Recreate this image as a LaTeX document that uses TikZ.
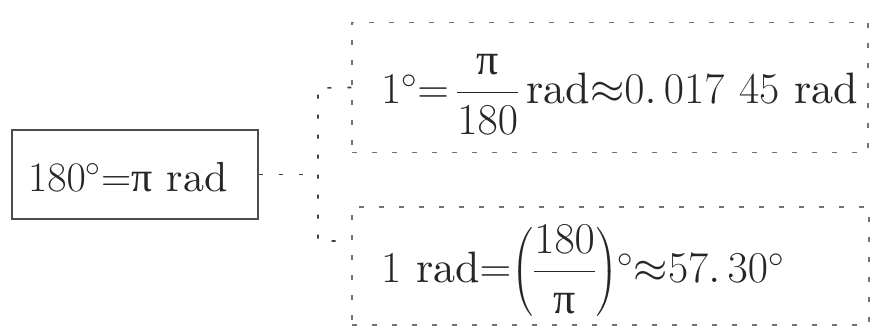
\RequirePackage{fix-cm}
\documentclass[tikz,border=0pt]{standalone}
\usepackage{amsmath}
\usepackage{fontspec}
\setmainfont{lmroman10-regular.otf}
\newfontfamily\grkfont{Liberation Serif}
\newcommand{\uppiT}{\text{\grkfont π}}
\begin{document}
\begin{tikzpicture}[x=1pt,y=-1pt,
  solidbox/.style={draw=black!70, line width=1.3pt, inner sep=0pt},
  dbox/.style={draw=black!55, line width=1.3pt, dash pattern=on 5pt off 15pt, inner sep=0pt},
  conn/.style={draw=black!75, line width=1.6pt, dash pattern=on 4pt off 16pt},
  txt/.style={anchor=base west, inner sep=0pt, text=black!85, font=\fontsize{44}{53}\selectfont}]
\useasboundingbox (0,0) rectangle (871,328);
% boxes
\node[solidbox, minimum width=246pt, minimum height=89pt] (deg) at (135,174.5) {};
\node[dbox, minimum width=516pt, minimum height=130pt] (up) at (610,87.5) {};
\node[dbox, minimum width=517pt, minimum height=118pt] (lo) at (610.5,266) {};
% texts
\node[txt, font=\fontsize{42}{50}\selectfont] (degt) at (28,192) {$180^{\circ}\mathord{=}\uppiT\ \mathrm{rad}$};
\node[txt] (upt) at (381,104) {$1^{\circ}\mathord{=}\,\dfrac{\uppiT}{180}\,\mathrm{rad}\mathord{\approx}0.\,017\ 45\ \mathrm{rad}$};
\node[txt] (lot) at (381,283) {$1\ \mathrm{rad}\mathord{=}\mathclose{\left(\dfrac{180}{\uppiT}\right)}{}^{\circ}\mathord{\approx}57.\,30^{\circ}$};
% connectors
\coordinate (j) at (318,174.5);
\coordinate (jt) at (318,88);
\coordinate (jb) at (318,241);
\draw[conn] (deg.east) -- (j);
\draw[conn] (up.west) -- (jt) -- (jb) -- (jb -| lo.west);
\end{tikzpicture}
\end{document}
